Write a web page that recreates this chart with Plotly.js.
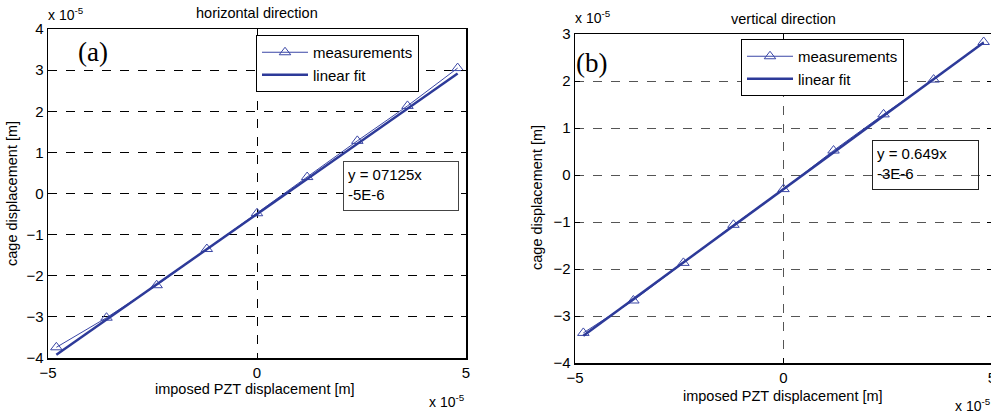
<!DOCTYPE html>
<html><head><meta charset="utf-8">
<script src="https://cdn.plot.ly/plotly-3.0.1.min.js"></script>
<style>html,body{margin:0;padding:0;overflow:hidden;background:#fff}</style>
</head><body><div id="chart" style="width:1000px;height:416px"></div>
<script>
// values in units of 1e-5 m
const pztDisplacement = [-4.8, -3.6, -2.4, -1.2, 0, 1.2, 2.4, 3.6, 4.8];
const horizMeasured = [-3.74, -3.02, -2.23, -1.35, -0.48, 0.40, 1.28, 2.13, 3.05];
const horizFitX = [-4.8, 4.8];
const horizFitY = [-3.92, 2.92];
const vertMeasured = [-3.36, -2.67, -1.87, -1.06, -0.30, 0.52, 1.29, 2.03, 2.83];
const vertFitX = [-4.8, 4.8];
const vertFitY = [-3.42, 2.82];
const xTicks = [-5, 0, 5];
const horizYTicks = [-4, -3, -2, -1, 0, 1, 2, 3, 4];
const vertYTicks = [-4, -3, -2, -1, 0, 1, 2, 3];
const seriesNames = ['measurements', 'linear fit'];

const W = 1000, H = 416;
const px = x => x / W, py = y => 1 - y / H;
const blue = '#2d3a99';
const fam = 'Liberation Sans, Arial, sans-serif';
const font = {family: fam, size: 14.5, color: '#000'};

const traces = [
  {x: pztDisplacement, y: horizMeasured, xaxis: 'x', yaxis: 'y', name: seriesNames[0], mode: 'lines+markers',
   line: {color: '#3b47a6', width: 1}, marker: {symbol: 'triangle-up-open', size: 10, color: '#3b47a6', line: {width: 1}}, legend: 'legend'},
  {x: horizFitX, y: horizFitY, xaxis: 'x', yaxis: 'y', name: seriesNames[1], mode: 'lines',
   line: {color: blue, width: 2.5}, legend: 'legend'},
  {x: pztDisplacement, y: vertMeasured, xaxis: 'x2', yaxis: 'y2', name: seriesNames[0], mode: 'lines+markers',
   line: {color: '#3b47a6', width: 1}, marker: {symbol: 'triangle-up-open', size: 10, color: '#3b47a6', line: {width: 1}}, legend: 'legend2'},
  {x: vertFitX, y: vertFitY, xaxis: 'x2', yaxis: 'y2', name: seriesNames[1], mode: 'lines',
   line: {color: blue, width: 2.5}, legend: 'legend2'}
];

function axis(extra) {
  return Object.assign({
    showline: true, linecolor: '#000', linewidth: 1.5, mirror: 'ticks',
    ticks: 'inside', ticklen: 5, tickcolor: '#000', tickwidth: 1,
    showgrid: true, griddash: 'dash', gridwidth: 1, zeroline: false,
    tickfont: {family: fam, size: 15, color: '#000'}, fixedrange: true
  }, extra);
}

const annotations = [
  {text: 'horizontal direction', x: px(257), y: py(13)},
  {text: 'vertical direction', x: px(783), y: py(19)},
  {text: 'x 10<sup>-5</sup>', x: px(66), y: py(14), font: {family: fam, size: 14, color: '#000'}},
  {text: 'x 10<sup>-5</sup>', x: px(593), y: py(17), font: {family: fam, size: 14, color: '#000'}},
  {text: 'x 10<sup>-5</sup>', x: px(447), y: py(401), font: {family: fam, size: 14, color: '#000'}},
  {text: 'x 10<sup>-5</sup>', x: px(973), y: py(405), font: {family: fam, size: 14, color: '#000'}},
  {text: 'imposed PZT displacement [m]', x: px(255), y: py(389)},
  {text: 'imposed PZT displacement [m]', x: px(783), y: py(396)},
  {text: 'cage displacement [m]', x: px(12), y: py(194), textangle: -90},
  {text: 'cage displacement [m]', x: px(537), y: py(198), textangle: -90},
  {text: '(a)', x: px(93), y: py(52), font: {family: 'Liberation Serif, Times New Roman, serif', size: 27, color: '#000'}},
  {text: '(b)', x: px(591), y: py(63), font: {family: 'Liberation Serif, Times New Roman, serif', size: 27, color: '#000'}},
  {text: 'y = 07125x<br>-5E-6', x: px(343), y: py(161), xanchor: 'left', yanchor: 'top', align: 'left', valign: 'top',
   bordercolor: '#444', borderwidth: 1, bgcolor: '#fff', borderpad: 4, width: 106, height: 40, font: {family: fam, size: 15, color: '#000'}},
  {text: 'y = 0.649x<br>-3E-6', x: px(872), y: py(140), xanchor: 'left', yanchor: 'top', align: 'left', valign: 'top',
   bordercolor: '#222', borderwidth: 1, bgcolor: 'rgba(0,0,0,0)', borderpad: 4, width: 97, height: 40, font: {family: fam, size: 15, color: '#000'}}
].map(a => Object.assign({xref: 'paper', yref: 'paper', showarrow: false, font: font, xanchor: 'center', yanchor: 'middle'}, a));

const legendBase = {
  xanchor: 'left', yanchor: 'top', bgcolor: '#fff', bordercolor: '#000', borderwidth: 1,
  font: {family: fam, size: 15, color: '#000'},
  tracegroupgap: 0, itemwidth: 46
};

const layout = {
  width: W, height: H, margin: {l: 0, r: 0, t: 0, b: 0},
  paper_bgcolor: '#fff', plot_bgcolor: '#fff',
  showlegend: true,
  xaxis: axis({domain: [px(48), px(466)], range: [-5, 5], tickvals: xTicks, gridcolor: '#000', anchor: 'y'}),
  yaxis: axis({domain: [py(358), py(29)], range: [-4, 4], tickvals: horizYTicks, gridcolor: '#000', anchor: 'x'}),
  xaxis2: axis({domain: [px(575), px(992)], range: [-5, 5], tickvals: xTicks, gridcolor: '#555', anchor: 'y2'}),
  yaxis2: axis({domain: [py(363), py(34)], range: [-4, 3], tickvals: vertYTicks, gridcolor: '#555', anchor: 'x2'}),
  legend: Object.assign({}, legendBase, {x: px(256), y: py(35)}),
  legend2: Object.assign({}, legendBase, {x: px(741), y: py(39)}),
  annotations: annotations
};

Plotly.newPlot('chart', traces, layout, {staticPlot: true, displayModeBar: false});
</script></body></html>
